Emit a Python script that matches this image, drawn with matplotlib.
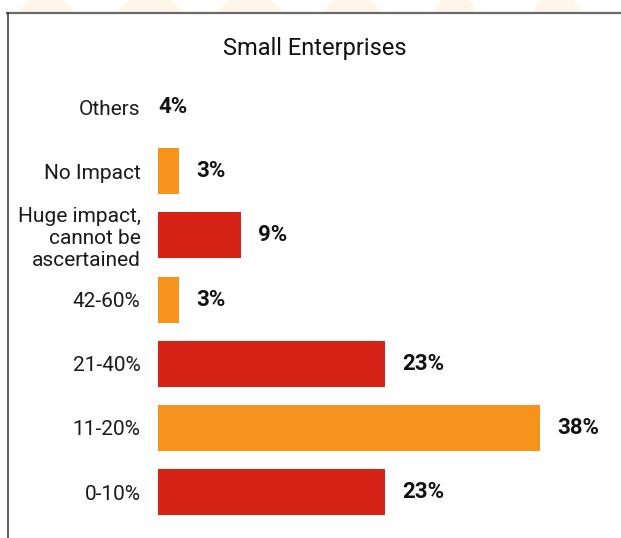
import matplotlib
matplotlib.use("Agg")
import matplotlib.pyplot as plt
from matplotlib.lines import Line2D
from matplotlib.patches import Ellipse, Rectangle

plt.rcParams['font.family'] = ['Roboto', 'DejaVu Sans']

# Survey data: impact on small enterprises (bottom to top)
categories = ["0-10%", "11-20%", "21-40%", "42-60%",
              "Huge impact,\ncannot be\nascertained", "No Impact", "Others"]
values = [23, 38, 23, 3, 9, 3, 4]
value_labels = ["23%", "38%", "23%", "3%", "9%", "3%", "4%"]
bar_colors = ["#D52216", "#F5931C", "#D52216", "#F5931C",
              "#D52216", "#F5931C", "none"]
title = "Small Enterprises"

W, H = 621, 538
fig = plt.figure(figsize=(W / 100, H / 100), dpi=100)
fig.patch.set_facecolor("white")


def fx(px):
    return px / W


def fy(py):
    return 1 - py / H


# decorative domes peeking above the frame
for cx, half_w in [(47, 27), (150, 33), (250, 33), (352, 28), (455, 20), (557, 24)]:
    r = (half_w ** 2 + 289) / 34.0
    d = (r ** 2 - half_w ** 2) ** 0.5
    cy = 12 + d
    e = Ellipse((fx(cx), fy(cy)), 2 * r / W, 2 * r / H,
                transform=fig.transFigure, facecolor="#FFF5E8",
                edgecolor="none", zorder=0)
    fig.patches.append(e)

# white panel with frame
fig.patches.append(Rectangle((fx(7), 0), 1 - fx(7), fy(12), transform=fig.transFigure,
                             facecolor="white", edgecolor="none", zorder=1))
fig.add_artist(Line2D([fx(7), 1.0], [fy(12.5), fy(12.5)], transform=fig.transFigure,
                      color="#6a6a6a", lw=1.6, zorder=2))
fig.add_artist(Line2D([fx(7.5), fx(7.5)], [0, fy(12.5)], transform=fig.transFigure,
                      color="#333333", lw=1.1, zorder=2))

ax = fig.add_axes([fx(158), fy(530), fx(612) - fx(158), (530 - 75) / H])
ax.set_facecolor("none")
ax.set_zorder(3)

ypos = list(range(len(categories)))
ax.barh(ypos, values, height=0.717, color=bar_colors, left=0)
ax.set_xlim(1, 45)
ax.set_ylim(-0.59, 6.5)

for y, v, lab, c in zip(ypos, values, value_labels, bar_colors):
    if c == "none":
        ax.annotate(lab, xy=(0, y), xycoords=("axes fraction", "data"),
                    xytext=(0, 0), textcoords="offset points",
                    ha="left", va="center", fontsize=16, fontweight="bold",
                    color="#111111")
    else:
        ax.annotate(lab, xy=(v, y), xytext=(12.5, 0), textcoords="offset points",
                    ha="left", va="center", fontsize=16, fontweight="bold",
                    color="#111111")

ax.set_yticks(ypos)
ax.set_yticklabels(categories, fontsize=15, color="#1a1a1a", linespacing=1.2)
ax.tick_params(axis="y", length=0, pad=12.5)
ax.set_xticks([])
for s in ax.spines.values():
    s.set_visible(False)

fig.text(fx(315), fy(49), title, ha="center", va="center", fontsize=17,
         color="#111111", zorder=4)

fig.savefig("out.png", dpi=100)
